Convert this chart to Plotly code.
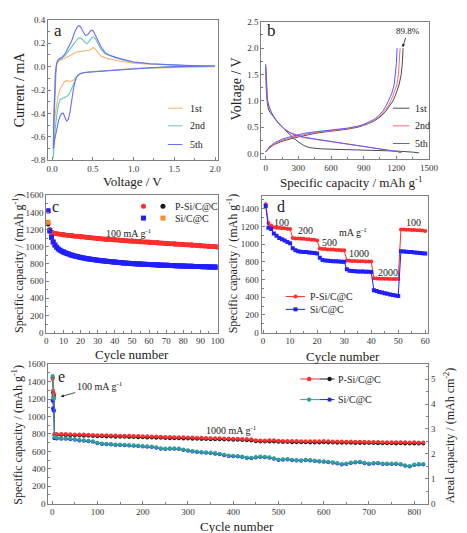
import plotly.graph_objects as go

W, H = 467, 533
FONT = "Liberation Serif"

# ---------------- Panel a : cyclic voltammetry ----------------
cv1_v = [2.0, 1.5, 1.2, 1.0, 0.9, 0.8, 0.6, 0.5, 0.4, 0.35, 0.32, 0.3, 0.27, 0.24, 0.21, 0.18, 0.15, 0.12, 0.1, 0.08, 0.06, 0.04, 0.03, 0.02, 0.015,
         0.02, 0.03, 0.04, 0.05, 0.06, 0.08, 0.1, 0.14, 0.18, 0.22, 0.26, 0.3, 0.34, 0.38, 0.42, 0.46, 0.49, 0.51, 0.53, 0.56, 0.6, 0.65, 0.7, 0.8, 0.9, 1.0, 1.2, 1.4, 1.6, 1.8, 2.0]
cv1_i = [0.0, -0.005, -0.01, -0.015, -0.02, -0.025, -0.035, -0.042, -0.05, -0.058, -0.07, -0.085, -0.11, -0.125, -0.125, -0.12, -0.13, -0.16, -0.19, -0.23, -0.30, -0.40, -0.46, -0.52, -0.56,
         -0.40, -0.2, -0.06, 0.0, 0.03, 0.045, 0.055, 0.065, 0.08, 0.1, 0.115, 0.125, 0.13, 0.135, 0.137, 0.14, 0.155, 0.163, 0.15, 0.12, 0.09, 0.075, 0.065, 0.05, 0.04, 0.03, 0.02, 0.013, 0.01, 0.007, 0.005]

cv2_v = [2.0, 1.5, 1.0, 0.8, 0.6, 0.5, 0.4, 0.35, 0.3, 0.27, 0.24, 0.21, 0.18, 0.15, 0.12, 0.1, 0.08, 0.06, 0.04, 0.03, 0.02, 0.015,
         0.02, 0.03, 0.04, 0.05, 0.06, 0.08, 0.1, 0.13, 0.16, 0.2, 0.24, 0.28, 0.31, 0.34, 0.37, 0.40, 0.43, 0.46, 0.49, 0.51, 0.53, 0.56, 0.6, 0.65, 0.7, 0.8, 0.9, 1.0, 1.2, 1.4, 1.6, 1.8, 2.0]
cv2_i = [0.005, 0.0, -0.02, -0.028, -0.035, -0.042, -0.05, -0.06, -0.09, -0.14, -0.2, -0.235, -0.255, -0.265, -0.27, -0.28, -0.32, -0.40, -0.52, -0.62, -0.72, -0.78,
         -0.55, -0.3, -0.12, -0.02, 0.03, 0.055, 0.065, 0.075, 0.095, 0.13, 0.17, 0.21, 0.235, 0.248, 0.235, 0.21, 0.195, 0.22, 0.25, 0.255, 0.24, 0.2, 0.15, 0.11, 0.095, 0.07, 0.052, 0.04, 0.025, 0.017, 0.012, 0.008, 0.005]

cv5_v = [2.0, 1.8, 1.5, 1.2, 1.0, 0.8, 0.6, 0.5, 0.4, 0.35, 0.32, 0.3, 0.28, 0.26, 0.24, 0.22, 0.2, 0.18, 0.16, 0.14, 0.12, 0.10, 0.08, 0.06, 0.04, 0.03, 0.02, 0.015,
         0.02, 0.03, 0.04, 0.05, 0.06, 0.08, 0.10, 0.13, 0.16, 0.2, 0.24, 0.28, 0.31, 0.33, 0.35, 0.38, 0.41, 0.44, 0.47, 0.49, 0.51, 0.53, 0.56, 0.6, 0.65, 0.7, 0.8, 0.9, 1.0, 1.2, 1.4, 1.6, 1.8, 2.0]
cv5_i = [0.005, 0.003, 0.0, -0.01, -0.02, -0.028, -0.035, -0.042, -0.05, -0.058, -0.07, -0.09, -0.13, -0.2, -0.3, -0.39, -0.45, -0.465, -0.44, -0.40, -0.40, -0.42, -0.46, -0.52, -0.58, -0.63, -0.68, -0.70,
         -0.5, -0.25, -0.08, 0.0, 0.04, 0.065, 0.075, 0.085, 0.11, 0.16, 0.22, 0.30, 0.34, 0.35, 0.34, 0.30, 0.265, 0.275, 0.305, 0.313, 0.30, 0.27, 0.23, 0.17, 0.12, 0.10, 0.075, 0.055, 0.04, 0.025, 0.017, 0.012, 0.008, 0.005]

a_xticks = [0.0, 0.5, 1.0, 1.5, 2.0]
a_xticklabels = ["0.0", "0.5", "1.0", "1.5", "2.0"]
a_yticks = [-0.8, -0.6, -0.4, -0.2, 0.0, 0.2, 0.4]
a_yticklabels = ["-0.8", "-0.6", "-0.4", "-0.2", "0.0", "0.2", "0.4"]
a_names = ["1st", "2nd", "5th"]

# ---------------- Panel b : charge/discharge profiles ----------------
b1_dis_cap = [0, 5, 15, 25, 40, 60, 100, 150, 200, 250, 300, 350, 400, 450, 500, 600, 800, 1000, 1200, 1350, 1410]
b1_dis_v = [1.65, 1.2, 0.95, 0.84, 0.78, 0.72, 0.62, 0.5, 0.4, 0.3, 0.22, 0.15, 0.11, 0.095, 0.088, 0.08, 0.07, 0.062, 0.045, 0.025, 0.01]
b1_chg_cap = [0, 30, 80, 150, 250, 350, 450, 550, 650, 750, 850, 900, 950, 1000, 1050, 1100, 1140, 1170, 1200, 1225, 1245, 1255, 1262]
b1_chg_v = [0.03, 0.1, 0.17, 0.23, 0.29, 0.34, 0.38, 0.41, 0.43, 0.46, 0.5, 0.53, 0.57, 0.62, 0.69, 0.79, 0.9, 1.0, 1.15, 1.3, 1.5, 1.7, 2.0]

b2_dis_cap = [0, 5, 15, 30, 50, 80, 120, 170, 220, 280, 350, 450, 550, 650, 750, 850, 950, 1050, 1150, 1220, 1250]
b2_dis_v = [1.6, 1.25, 1.0, 0.88, 0.78, 0.67, 0.56, 0.46, 0.39, 0.34, 0.3, 0.27, 0.24, 0.21, 0.18, 0.15, 0.12, 0.09, 0.06, 0.03, 0.015]
b2_chg_cap = [0, 30, 80, 150, 250, 350, 450, 550, 650, 750, 850, 900, 950, 1000, 1050, 1090, 1125, 1150, 1180, 1205, 1220, 1228, 1235]
b2_chg_v = [0.03, 0.11, 0.18, 0.25, 0.31, 0.36, 0.4, 0.42, 0.44, 0.47, 0.51, 0.54, 0.58, 0.63, 0.71, 0.8, 0.9, 1.0, 1.15, 1.3, 1.5, 1.7, 2.0]

b5_dis_cap = [0, 5, 15, 30, 50, 80, 120, 170, 220, 280, 350, 450, 550, 650, 750, 850, 950, 1050, 1150, 1210, 1240]
b5_dis_v = [1.7, 1.3, 1.02, 0.9, 0.79, 0.68, 0.57, 0.47, 0.4, 0.35, 0.31, 0.275, 0.245, 0.215, 0.185, 0.155, 0.125, 0.095, 0.06, 0.035, 0.015]
b5_chg_cap = [0, 30, 80, 150, 250, 350, 450, 550, 650, 750, 850, 900, 950, 1000, 1040, 1075, 1105, 1130, 1160, 1180, 1192, 1200, 1207]
b5_chg_v = [0.03, 0.12, 0.2, 0.27, 0.33, 0.38, 0.41, 0.43, 0.45, 0.48, 0.52, 0.55, 0.6, 0.65, 0.72, 0.8, 0.9, 1.0, 1.15, 1.3, 1.5, 1.7, 2.0]

b_xticks = [0, 300, 600, 900, 1200, 1500]
b_yticks = [0.0, 0.5, 1.0, 1.5, 2.0, 2.5]
b_yticklabels = ["0.0", "0.5", "1.0", "1.5", "2.0", "2.5"]

# ---------------- Panel c : cycling at 100 mA g-1 ----------------
c_cycles = list(range(1, 101))
c_psi = [1415, 1200, 1170, 1160, 1155, 1150, 1147, 1145, 1142, 1140,
         1137, 1135, 1132, 1130, 1128, 1125, 1123, 1121, 1119, 1117,
         1115, 1113, 1111, 1109, 1107, 1105, 1103, 1101, 1099, 1097,
         1095, 1093, 1091, 1090, 1088, 1086, 1085, 1083, 1082, 1080,
         1078, 1077, 1075, 1074, 1072, 1071, 1070, 1068, 1067, 1066,
         1064, 1063, 1062, 1060, 1059, 1058, 1056, 1055, 1054, 1052,
         1051, 1050, 1048, 1047, 1046, 1044, 1043, 1042, 1040, 1039,
         1038, 1036, 1035, 1034, 1032, 1031, 1030, 1028, 1027, 1026,
         1024, 1023, 1022, 1020, 1019, 1018, 1016, 1015, 1014, 1012,
         1011, 1010, 1008, 1007, 1006, 1004, 1003, 1002, 1000, 998]
c_si = [1420, 1185, 1110, 1055, 1020, 995, 975, 960, 948, 938,
        929, 921, 914, 907, 901, 895, 890, 885, 880, 876,
        872, 868, 864, 861, 858, 855, 852, 849, 846, 843,
        841, 838, 836, 833, 831, 829, 827, 825, 823, 821,
        819, 817, 815, 813, 812, 810, 808, 807, 805, 804,
        803, 801, 800, 799, 798, 797, 796, 795, 794, 793,
        792, 791, 790, 789, 788, 787, 786, 785, 784, 783,
        783, 782, 781, 780, 779, 779, 778, 777, 776, 776,
        775, 774, 773, 773, 772, 771, 771, 770, 769, 769,
        768, 767, 767, 766, 765, 765, 764, 763, 763, 762]
# second series of each sample (mostly hidden beneath the first)
c_cycles_b = [1, 2, 3, 4, 5, 10, 15, 20, 25, 30, 35, 40, 45, 50, 55, 60, 65, 70, 75, 80, 85, 90, 95, 100]
c_psi_b = [1265, 1180, 1165, 1158, 1153, 1140, 1128, 1117, 1107, 1097, 1088, 1080, 1072, 1066, 1059, 1052, 1046, 1039, 1032, 1026, 1019, 1012, 1006, 998]
c_si_b = [1285, 1185, 1110, 1055, 1020, 938, 901, 876, 858, 843, 831, 821, 812, 804, 798, 793, 788, 783, 779, 776, 772, 769, 765, 762]
c_xticks = [0, 10, 20, 30, 40, 50, 60, 70, 80, 90, 100]
c_yticks = [0, 200, 400, 600, 800, 1000, 1200, 1400, 1600]

# ---------------- Panel d : rate capability ----------------
d_cycles = list(range(1, 61))
d_psi = [1450, 1240, 1210, 1190, 1185, 1185, 1180, 1180, 1175, 1170,
         1070, 1065, 1065, 1060, 1060, 1055, 1055, 1050, 1050, 1040,
         950, 945, 945, 940, 940, 940, 935, 935, 930, 930,
         815, 812, 810, 810, 808, 808, 806, 805, 805, 803,
         615, 612, 610, 610, 608, 608, 607, 606, 605, 605,
         1165, 1165, 1163, 1162, 1160, 1160, 1158, 1157, 1155, 1150]
d_si = [1430, 1185, 1170, 1120, 1095, 1070, 1055, 1040, 1025, 1010,
        955, 930, 920, 915, 912, 910, 905, 902, 900, 895,
        845, 820, 815, 812, 810, 808, 806, 804, 802, 800,
        715, 700, 695, 693, 692, 690, 690, 688, 688, 685,
        480, 470, 460, 452, 445, 438, 432, 426, 420, 415,
        920, 918, 915, 912, 910, 907, 904, 900, 897, 893]
d_xticks = [0, 10, 20, 30, 40, 50, 60]
d_yticks = [0, 200, 400, 600, 800, 1000, 1200, 1400]
d_rates = ["100", "200", "500", "1000", "2000", "100"]

# ---------------- Panel e : long cycling at 1000 mA g-1 ----------------
e_cycles = [1, 2, 3, 4, 5] + list(range(10, 821, 10))
e_psi = [1430, 1295, 1265, 1250, 800,
         800, 800, 798, 797, 795, 794, 793, 790, 789, 786,
         786, 784, 783, 782, 780, 779, 778, 777, 776, 775,
         773, 772, 770, 768, 766, 765, 763, 762, 761, 760,
         758, 757, 755, 754, 752, 751, 750, 749, 747, 745,
         744, 743, 742, 738, 728, 725, 726, 727, 727, 722,
         720, 720, 718, 718, 717, 717, 716, 716, 716, 718,
         716, 714, 713, 712, 710, 712, 710, 710, 709, 708,
         708, 707, 706, 706, 705, 704, 705, 704, 703, 704,
         702, 702]
e_psi_b = [1450, 1280, 1250, 1240, 790,
           788, 787, 786, 784, 783, 781, 780, 778, 776, 774,
           773, 772, 771, 769, 768, 767, 765, 764, 763, 762,
           760, 759, 757, 755, 754, 752, 751, 750, 748, 747,
           746, 744, 743, 742, 740, 739, 738, 736, 735, 733,
           732, 731, 729, 725, 716, 713, 713, 714, 714, 710,
           708, 707, 706, 705, 705, 704, 703, 703, 703, 705,
           703, 701, 700, 699, 698, 699, 697, 697, 696, 695,
           695, 694, 693, 693, 692, 691, 692, 691, 690, 691,
           689, 689]
e_si = [1465, 1220, 1210, 1205, 765,
        755, 752, 750, 745, 740, 732, 728, 722, 716, 700,
        690, 688, 684, 680, 678, 676, 672, 670, 668, 663,
        660, 655, 648, 635, 633, 636, 635, 632, 622, 612,
        605, 598, 592, 590, 588, 580, 572, 560, 553, 550,
        548, 540, 530, 528, 536, 540, 538, 532, 522, 508,
        510, 512, 505, 500, 498, 504, 500, 494, 490, 486,
        480, 476, 466, 455, 462, 472, 478, 482, 470, 460,
        466, 470, 462, 462, 460, 462, 455, 440, 432, 448,
        455, 455]
e_si_b = [1180, 1095, 1070, 1065, 750,
          749, 746, 744, 739, 734, 726, 722, 716, 710, 694,
          684, 682, 678, 674, 672, 670, 666, 664, 662, 657,
          654, 649, 642, 629, 627, 630, 629, 626, 616, 606,
          599, 592, 586, 584, 582, 574, 566, 554, 547, 544,
          542, 534, 524, 522, 530, 534, 532, 526, 516, 502,
          504, 506, 499, 494, 492, 498, 494, 488, 484, 480,
          474, 470, 460, 449, 456, 466, 472, 476, 464, 454,
          460, 464, 456, 456, 454, 456, 449, 434, 426, 442,
          449, 449]
e_xticks = [0, 100, 200, 300, 400, 500, 600, 700, 800]
e_yticks = [0, 200, 400, 600, 800, 1000, 1200, 1400, 1600]
e_y2ticks = [0, 1, 2, 3, 4, 5]

# ---------------- colours ----------------
C_ORANGE_L, C_TEAL_L, C_BLUE_L = "#f8b26a", "#63c7b9", "#6b6bff"
C_BLACK_B, C_RED_B, C_BLUE_B = "#4a4a4a", "#ff6b6b", "#5a5aff"
C_RED, C_BLACK, C_BLUE, C_ORANGE, C_TEAL = "#ff2d2d", "#1a1a1a", "#1f1fff", "#ff8c1a", "#2f9f97"
AXC = "#808080"


def PX(x):
    return x / W


def PY(y):
    return 1 - y / H


fig = go.Figure()

# panel a
for v, i, c in [(cv1_v, cv1_i, C_ORANGE_L), (cv2_v, cv2_i, C_TEAL_L), (cv5_v, cv5_i, C_BLUE_L)]:
    fig.add_trace(go.Scatter(x=v, y=i, mode="lines", line=dict(color=c, width=1.1),
                             xaxis="x", yaxis="y", showlegend=False))

# panel b
for dc, dv, cc, cv, col in [(b1_dis_cap, b1_dis_v, b1_chg_cap, b1_chg_v, C_BLACK_B),
                            (b2_dis_cap, b2_dis_v, b2_chg_cap, b2_chg_v, C_RED_B),
                            (b5_dis_cap, b5_dis_v, b5_chg_cap, b5_chg_v, C_BLUE_B)]:
    fig.add_trace(go.Scatter(x=dc, y=dv, mode="lines", line=dict(color=col, width=1),
                             xaxis="x2", yaxis="y2", showlegend=False))
    fig.add_trace(go.Scatter(x=cc, y=cv, mode="lines", line=dict(color=col, width=1),
                             xaxis="x2", yaxis="y2", showlegend=False))

# panel c
fig.add_trace(go.Scatter(x=c_cycles_b, y=c_psi_b, mode="markers", marker=dict(color=C_BLACK, size=5),
                         xaxis="x3", yaxis="y3", showlegend=False))
fig.add_trace(go.Scatter(x=c_cycles, y=c_psi, mode="markers", marker=dict(color=C_RED, size=5),
                         xaxis="x3", yaxis="y3", showlegend=False))
fig.add_trace(go.Scatter(x=c_cycles_b, y=c_si_b, mode="markers", marker=dict(color=C_ORANGE, size=5, symbol="square"),
                         xaxis="x3", yaxis="y3", showlegend=False))
fig.add_trace(go.Scatter(x=c_cycles, y=c_si, mode="markers", marker=dict(color=C_BLUE, size=5, symbol="square"),
                         xaxis="x3", yaxis="y3", showlegend=False))

# panel d
fig.add_trace(go.Scatter(x=d_cycles, y=d_psi, mode="lines+markers", line=dict(color=C_RED, width=1),
                         marker=dict(color=C_RED, size=4), xaxis="x4", yaxis="y4", showlegend=False))
fig.add_trace(go.Scatter(x=d_cycles, y=d_si, mode="lines+markers", line=dict(color=C_BLUE, width=1),
                         marker=dict(color=C_BLUE, size=4, symbol="square"), xaxis="x4", yaxis="y4", showlegend=False))

# panel e
for y, c in [(e_psi_b, C_BLACK), (e_psi, C_RED), (e_si_b, C_BLUE), (e_si, C_TEAL)]:
    fig.add_trace(go.Scatter(x=e_cycles, y=y, mode="lines+markers", line=dict(color=c, width=1),
                             marker=dict(color=c, size=4), xaxis="x5", yaxis="y5", showlegend=False))
# empty trace so that the areal-capacity axis is drawn
fig.add_trace(go.Scatter(x=[None], y=[None], mode="markers", xaxis="x5", yaxis="y6",
                         showlegend=False, hoverinfo="skip"))


def axis(domain, rng, tickvals, ticktext=None, minor_dtick=None, anchor=None, **kw):
    d = dict(domain=domain, range=rng, tickvals=tickvals, showline=True, mirror=True,
             linecolor=AXC, linewidth=1, ticks="inside", ticklen=3, tickcolor=AXC,
             tickfont=dict(size=9, color="#333", family=FONT), showgrid=False, zeroline=False,
             anchor=anchor)
    if ticktext is not None:
        d["ticktext"] = ticktext
    if minor_dtick is not None:
        d["minor"] = dict(ticks="inside", ticklen=2, tickcolor=AXC, dtick=minor_dtick, showgrid=False)
    d.update(kw)
    return d


dom_a = ([PX(39), PX(213)], [PY(150), PY(7)])
dom_b = ([PX(258), PX(430)], [PY(149), PY(9)])
dom_c = ([PX(37.3), PX(213)], [PY(325.7), PY(185.7)])
dom_d = ([PX(258.3), PX(429)], [PY(325.7), PY(186)])
dom_e = ([PX(39.3), PX(429.3)], [PY(500), PY(358)])

layout = dict(
    width=W, height=H, margin=dict(l=0, r=0, t=0, b=0),
    paper_bgcolor="white", plot_bgcolor="white",
    font=dict(family=FONT, color="#222"),
    showlegend=False,
    xaxis=axis(dom_a[0], [-0.05, 2.03], a_xticks, a_xticklabels, 0.25, "y"),
    yaxis=axis(dom_a[1], [-0.8, 0.4], a_yticks, a_yticklabels, 0.1, "x"),
    xaxis2=axis(dom_b[0], [-40, 1500], b_xticks, None, 150, "y2"),
    yaxis2=axis(dom_b[1], [-0.11, 2.5], b_yticks, b_yticklabels, 0.25, "x2"),
    xaxis3=axis(dom_c[0], [0, 100], c_xticks, None, 5, "y3"),
    yaxis3=axis(dom_c[1], [0, 1600], c_yticks, None, 100, "x3"),
    xaxis4=axis(dom_d[0], [-0.5, 61], d_xticks, None, 5, "y4"),
    yaxis4=axis(dom_d[1], [0, 1550], d_yticks, None, 100, "x4"),
    xaxis5=axis(dom_e[0], [-8.6, 831], e_xticks, None, 50, "y5"),
    yaxis5=axis(dom_e[1], [0, 1600], e_yticks, None, 100, "x5", mirror=False),
    yaxis6=axis(dom_e[1], [0, 5.6], e_y2ticks, None, 0.5, "x5", overlaying="y5", side="right", mirror=False),
)
fig.update_layout(**layout)

ann = []


def A(text, x, y, size=10, xanchor="center", angle=0, **kw):
    d = dict(text=text, x=PX(x), y=PY(y), xref="paper", yref="paper", showarrow=False,
             xanchor=xanchor, yanchor="middle", textangle=angle,
             font=dict(size=size, family=FONT, color="#222"))
    d.update(kw)
    ann.append(d)


# axis titles
A("Current / mA", 10, 78, 14, angle=-90)
A("Voltage / V", 126, 172, 13)
A("Voltage / V", 232, 78, 14, angle=-90)
A("Specific capacity / mAh g<sup>-1</sup>", 350, 172, 13)
A("Specific capacity / (mAh g<sup>-1</sup>)", 8, 255, 12, angle=-90)
A("Cycle number", 125, 348, 13)
A("Specific capacity / (mAh g<sup>-1</sup>)", 228, 255, 12, angle=-90)
A("Cycle number", 342, 350, 13)
A("Specific capacity / (mAh g<sup>-1</sup>)", 8, 430, 12, angle=-90)
A("Areal capacity / (mAh cm<sup>-2</sup>)", 452, 430, 12, angle=-90)
A("Cycle number", 233, 523, 13)

# panel letters
A("a", 49, 18, 17)
A("b", 268, 18, 17)
A("c", 47, 197, 16)
A("d", 278, 197, 16)
A("e", 53, 370, 16)

# in-plot notes (with arrows)
ann.append(dict(text="89.8%", x=PX(403), y=PY(35), xref="paper", yref="paper", ax=5, ay=-16,
                showarrow=True, arrowhead=2, arrowsize=0.8, arrowwidth=0.8, arrowcolor="#222",
                font=dict(size=9, family=FONT, color="#222")))
A("100 mA g<sup>-1</sup>", 122, 224, 10)
for txt, x, y in zip(d_rates, [279, 303, 328, 358, 388, 414], [213, 222, 234, 245, 264, 213]):
    A(txt, x, y, 10)
A("mA g<sup>-1</sup>", 352, 223, 10)
ann.append(dict(text="100 mA g<sup>-1</sup>", x=PX(52), y=PY(391), xref="paper", yref="paper", ax=39, ay=-11,
                showarrow=True, arrowhead=2, arrowsize=0.8, arrowwidth=0.8, arrowcolor="#222",
                font=dict(size=10, family=FONT, color="#222")))
A("1000 mA g<sup>-1</sup>", 227, 425, 10)

# legends (text)
for name, y in zip(a_names, [97, 115, 134]):
    A(name, 183, y, 10, xanchor="left")
for name, y in zip(a_names, [97, 115, 133]):
    A(name, 414, y, 10, xanchor="left")
A("P-Si/C@C", 167, 197, 10, xanchor="left")
A("Si/C@C", 167, 209, 10, xanchor="left")
A("P-Si/C@C", 306, 289, 10, xanchor="left")
A("Si/C@C", 306, 302, 10, xanchor="left")
A("P-Si/C@C", 335, 373, 10, xanchor="left")
A("Si/C@C", 335, 394, 10, xanchor="left")

fig.update_layout(annotations=ann)

shapes = []


def LINE(x0, x1, y, color):
    shapes.append(dict(type="line", xref="paper", yref="paper", x0=PX(x0), x1=PX(x1), y0=PY(y), y1=PY(y),
                       line=dict(color=color, width=1)))


def MARK(x, y, color, kind="circle", r=2.5):
    shapes.append(dict(type=kind, xref="paper", yref="paper", xsizemode="pixel", ysizemode="pixel",
                       xanchor=PX(x), yanchor=PY(y), x0=-r, x1=r, y0=-r, y1=r,
                       fillcolor=color, line=dict(width=0)))


for c, y in zip([C_ORANGE_L, C_TEAL_L, C_BLUE_L], [97, 115, 134]):
    LINE(162, 177, y, c)
for c, y in zip([C_BLACK_B, C_RED_B, C_BLUE_B], [97, 115, 133]):
    LINE(393, 410, y, c)
MARK(137, 197, C_RED)
MARK(157, 197, C_BLACK)
MARK(137, 209, C_BLUE, "rect")
MARK(157, 209, C_ORANGE, "rect")
LINE(283, 303, 289, C_RED)
MARK(293, 289, C_RED, r=2)
LINE(283, 303, 302, C_BLUE)
MARK(293, 302, C_BLUE, "rect", r=2)
LINE(298, 318, 373, C_RED)
MARK(307, 373, C_RED, r=2.2)
LINE(318, 333, 373, C_BLACK)
MARK(328, 373, C_BLACK, r=2.2)
LINE(298, 318, 394, C_TEAL)
MARK(307, 394, C_TEAL, r=2.2)
LINE(318, 333, 394, C_BLUE)
MARK(328, 394, C_BLUE, r=2.2)

fig.update_layout(shapes=shapes)

fig.write_html("out.html")
